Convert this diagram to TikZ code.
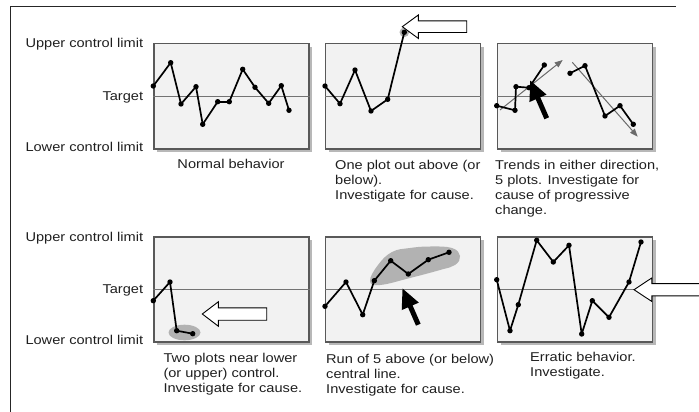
\documentclass[tikz,border=0pt]{standalone}
\usepackage{fontspec}
\setmainfont{Liberation Sans}[FakeStretch=1.14]
\usetikzlibrary{arrows.meta,shadows}

% a run of plotted points: dots named <prefix><k>, joined in order
\newcommand\plotrun[2]{%
  \foreach \px/\py [count=\k, remember=\k as \lastk (initially 0)] in {#2} {%
    \node[dot] (#1\k) at (\px,\py) {};
    \ifnum\k>1 \draw[series] (#1\lastk.center) -- (#1\k.center);\fi
  }%
}

\begin{document}
\begin{tikzpicture}[x=1pt,y=-1pt,
  panel/.style={draw=black!65, fill=black!5, line width=1.2pt,
    minimum width=155pt, minimum height=105pt, anchor=north west, inner sep=0pt,
    drop shadow={shadow xshift=3.5pt, shadow yshift=-3.5pt, fill=black!28, opacity=1}},
  targetline/.style={draw=black!55, line width=0.9pt},
  dot/.style={circle, fill=black, inner sep=0pt, minimum size=5.4pt},
  series/.style={line width=1.7pt, line cap=round, line join=round},
  txt/.style={font=\fontsize{12.8}{15.2}\selectfont, inner sep=0pt, text=black!88},
  limitlabel/.style={txt, anchor=base east},
  caption/.style={txt, anchor=north west, align=left},
  hollow/.style={draw=black, fill=white, line width=0.9pt, line join=miter},
  pointer/.style={line width=5pt, -{Triangle[length=20pt,width=17pt]}},
  trend/.style={draw=black!58, line width=1pt, -{Triangle[length=8pt,width=6pt]}},
  halo/.style={fill=black!30},
]
\useasboundingbox (0,0) rectangle (699,412);

% outer frame (left and top edges)
\coordinate (fb) at (10.5,412);
\coordinate (ftl) at (10.5,6.7);
\coordinate (ftr) at (675.7,6.7);
\draw[line width=1.3pt, black!85] (fb) -- (ftl) -- (ftr);

% chart panels
\node[panel] (P1) at (153.3,43.3) {};
\node[panel] (P2) at (325,43.3) {};
\node[panel] (P3) at (496.7,43.3) {};
\node[panel] (P4) at (153.3,236.3) {};
\node[panel] (P5) at (325,236.3) {};
\node[panel] (P6) at (496.7,236.3) {};
\foreach \p in {P1,P2,P3,P4,P5,P6}
  \draw[targetline] (\p.west) -- (\p.east);

% limit labels
\node[limitlabel] (u1) at (143.3,47.6) {Upper control limit};
\node[limitlabel] (t1) at (143.3,100.3) {Target};
\node[limitlabel] (l1) at (143.3,151.3) {Lower control limit};
\node[limitlabel] (u2) at (143.3,241.3) {Upper control limit};
\node[limitlabel] (t2) at (143.3,293.6) {Target};
\node[limitlabel] (l2) at (143.3,344.6) {Lower control limit};

% highlighted regions
\fill[halo] (404.3,32.3) circle (4.8pt);
\fill[halo] (184.5,332.5) ellipse [x radius=16pt, y radius=7.8pt];
\fill[halo] plot[smooth cycle, tension=0.7] coordinates {(370,281) (378,265) (392,252)
  (410,248) (430,246.5) (452,248) (460,256) (455,265) (440,270) (410,278) (380,285)};

% normal behaviour
\plotrun{a}{153.3/86, 170.7/62.7, 181/104, 196/86.7, 202.7/124.3, 217.7/101.7,
  229.3/101.7, 242.7/69.3, 255/87.3, 268.7/103.3, 281.3/85.7, 289/110.3}
% one plot out above
\plotrun{b}{325/86, 340/103.7, 355/70, 371/111, 387.7/99.3, 404.3/32.3}
% trends
\coordinate (ts1) at (500,110);   \coordinate (te1) at (562.7,60);
\coordinate (ts2) at (572.3,62.3); \coordinate (te2) at (637.7,136.7);
\draw[trend] (ts1) -- (te1);
\draw[trend] (ts2) -- (te2);
\plotrun{c}{496.7/105.7, 515/110.3, 516/86.7, 529/87.7, 544.3/65}
\plotrun{d}{570/73.3, 585/65.7, 605/116, 620/105.7, 633.3/124.3}
% two plots near lower limit
\plotrun{e}{153.3/300.7, 170/282, 176.7/330.7, 192.7/333.7}
% run above the central line
\plotrun{f}{325/306.3, 346/282, 362.7/314.7, 374.3/280.7, 390.7/260.7, 408.3/274,
  428.3/259.7, 449/252.3}
% erratic behaviour
\plotrun{g}{496.7/279.7, 510/330.7, 518.3/304.7, 536.7/240.3, 553.3/262, 569/245.3,
  581.7/334, 592.3/300.7, 609/317.3, 629/282, 641/242}

% black pointers
\coordinate (ks1) at (546.7,118.3); \coordinate (ke1) at (530,80);
\coordinate (ks2) at (418.3,324.7); \coordinate (ke2) at (402.3,288);
\draw[pointer] (ks1) -- (ke1);
\draw[pointer] (ks2) -- (ke2);

% hollow arrows
\coordinate (h1) at (402.3,26.7);
\draw[hollow] (h1) -- ++(16,-11.7) -- ++(0,5.9) -- ++(48.4,0) -- ++(0,11.6)
  -- ++(-48.4,0) -- ++(0,5.9) -- cycle;
\coordinate (h2) at (202.3,314);
\draw[hollow] (h2) -- ++(16,-12.2) -- ++(0,6) -- ++(48.4,0) -- ++(0,12.4)
  -- ++(-48.4,0) -- ++(0,6) -- cycle;
\coordinate (h3) at (634,289.7);
\begin{scope}
  \clip (0,0) rectangle (699,412);
  \draw[hollow] (h3) -- ++(17.7,-11.7) -- ++(0,5.6) -- ++(52,0) -- ++(0,12.3)
    -- ++(-52,0) -- ++(0,5.5) -- cycle;
\end{scope}

% captions
\node[txt, anchor=base] (c1) at (231,168.9) {Normal behavior};
\node[caption] (c2) at (335,159.6) {One plot out above (or\\below).\\Investigate for cause.};
\node[caption] (c3) at (495,159.6) {Trends in either direction,\\5 plots. Investigate for\\cause of progressive\\change.};
\node[caption] (c4) at (163.3,353) {Two plots near lower\\(or upper) control.\\Investigate for cause.};
\node[caption] (c5) at (326,353.6) {Run of 5 above (or below)\\central line.\\Investigate for cause.};
\node[caption] (c6) at (530,352) {Erratic behavior.\\Investigate.};
\end{tikzpicture}
\end{document}
